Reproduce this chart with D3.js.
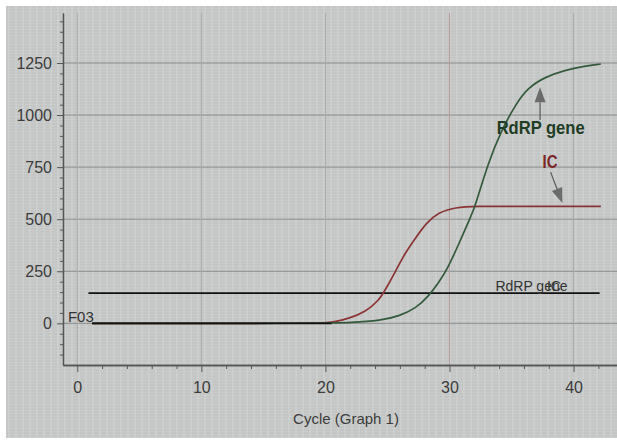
<!DOCTYPE html>
<html>
<head>
<meta charset="utf-8">
<script src="https://cdn.jsdelivr.net/npm/d3@7"></script>
<style>
  body { margin: 0; background: #fff; }
  svg { display: block; font-family: "Liberation Sans", Arial, sans-serif; }
</style>
</head>
<body>
<svg id="chart" width="617" height="443"></svg>
<script>
// amplification plot, well F03
var xMajorTicks = [0, 10, 20, 30, 40]
var yMajorTicks = [0, 250, 500, 750, 1000, 1250]

var icCycles = [1.2, 18, 20, 20.8, 21.9, 23.2, 24.3, 24.8, 25.7, 26.4, 27.3, 28.1, 29.1, 30.5, 32, 36, 42.2]
var icValues = [0, 0, 2, 8, 24, 53, 110, 158, 255, 336, 413, 480, 533, 557, 562, 562, 562]

var rdrpCycles = [1.2, 20, 22, 24.5, 25.9, 27.3, 28.3, 29.1, 29.9, 30.7, 31.7, 32.1, 33.1, 34.2, 35.3, 36.3, 37.7, 39.3, 40.9, 42.2]
var rdrpValues = [0, 0, 3, 14, 34, 72, 130, 192, 269, 375, 510, 567, 769, 928, 1048, 1130, 1183, 1216, 1235, 1245]

var baseCycles = [1.2, 20.5]
var baseValues = [0, 0]

var thresholdCycles = [0.9, 42.1]
var thresholdValue = 145

var svg = d3.select('#chart')
var W = 617, H = 443

var x = d3.scaleLinear().domain([-1.15, 43.5]).range([63, 617])
var y = d3.scaleLinear().domain([-200, 1490]).range([365, 13])

// screen background
svg.append('rect').attr('x', 6).attr('y', 6).attr('width', W - 6).attr('height', 432).attr('fill', '#c9cbca')

// fake screen texture
var tex = svg.append('g').attr('class', 'texture')
d3.range(7, 437, 3).forEach(function (yy) {
    tex.append('line').attr('x1', 6).attr('x2', W).attr('y1', yy).attr('y2', yy)
        .attr('stroke', '#000').attr('stroke-opacity', 0.05)
})
d3.range(9, W, 7).forEach(function (xx) {
    tex.append('line').attr('x1', xx).attr('x2', xx).attr('y1', 6).attr('y2', 438)
        .attr('stroke', '#fff').attr('stroke-opacity', 0.25)
})

// grid
svg.append('g').selectAll('line').data(yMajorTicks).enter().append('line')
    .attr('x1', x.range()[0]).attr('x2', W)
    .attr('y1', function (d) { return y(d) }).attr('y2', function (d) { return y(d) })
    .attr('stroke', '#8a8d8d').attr('stroke-width', 1)

svg.append('g').selectAll('line').data(xMajorTicks).enter().append('line')
    .attr('x1', function (d) { return x(d) }).attr('x2', function (d) { return x(d) })
    .attr('y1', y.range()[1]).attr('y2', y.range()[0])
    .attr('stroke', function (d) { return d == 30 ? '#b39c9c' : '#a9abab' }).attr('stroke-width', 1)

// axes
function styleAxis(g) {
    g.select('.domain').attr('stroke', '#555').attr('stroke-width', 1.3)
    g.selectAll('.tick line').attr('stroke', '#555')
    g.selectAll('.tick text').attr('fill', '#3c3c3c').attr('font-size', '16px')
        .attr('font-family', '"Liberation Sans", Arial, sans-serif')
}

var minorY = d3.range(-150, 1451, 50).filter(function (d) { return d % 250 != 0 })
svg.append('g').attr('transform', 'translate(' + x.range()[0] + ',0)')
    .call(d3.axisLeft(y).tickValues(minorY).tickSize(3).tickFormat('').tickSizeOuter(0))
    .call(styleAxis)
svg.append('g').attr('transform', 'translate(' + x.range()[0] + ',0)')
    .call(d3.axisLeft(y).tickValues(yMajorTicks).tickSize(6).tickPadding(5).tickSizeOuter(0).tickFormat(d3.format('d')))
    .call(styleAxis)

var minorX = d3.range(2, 43, 2).filter(function (d) { return d % 10 != 0 })
svg.append('g').attr('transform', 'translate(0,' + y.range()[0] + ')')
    .call(d3.axisBottom(x).tickValues(minorX).tickSize(4).tickFormat('').tickSizeOuter(0))
    .call(styleAxis)
svg.append('g').attr('transform', 'translate(0,' + y.range()[0] + ')')
    .call(d3.axisBottom(x).tickValues(xMajorTicks).tickSize(7).tickPadding(10).tickSizeOuter(0).tickFormat(d3.format('d')))
    .call(styleAxis)

svg.append('text').attr('x', 346).attr('y', 424).attr('text-anchor', 'middle')
    .attr('font-size', '15px').attr('fill', '#3c3c3c').text('Cycle (Graph 1)')

// threshold
var line = d3.line().x(function (d) { return x(d[0]) }).y(function (d) { return y(d[1]) })
svg.append('path')
    .datum(thresholdCycles.map(function (c) { return [c, thresholdValue] }))
    .attr('d', line).attr('fill', 'none').attr('stroke', '#111').attr('stroke-width', 1.6)

// curves
var curve = d3.line().curve(d3.curveBasis)
    .x(function (d) { return x(d[0]) }).y(function (d) { return y(d[1]) })

svg.append('path').datum(d3.zip(icCycles, icValues))
    .attr('d', curve).attr('fill', 'none').attr('stroke', '#8a3434').attr('stroke-width', 1.7)
svg.append('path').datum(d3.zip(rdrpCycles, rdrpValues))
    .attr('d', curve).attr('fill', 'none').attr('stroke', '#345a3c').attr('stroke-width', 1.7)
svg.append('path').datum(d3.zip(baseCycles, baseValues))
    .attr('d', line).attr('fill', 'none').attr('stroke', '#111').attr('stroke-width', 1.6)

// labels
svg.append('text').attr('x', x(-0.75)).attr('y', y(6)).attr('font-size', '15px')
    .attr('fill', '#333').text('F03')
svg.append('text').attr('x', x(33.7)).attr('y', y(155)).attr('font-size', '14px')
    .attr('fill', '#333').text('RdRP gene')
svg.append('text').attr('x', x(37.85)).attr('y', y(155)).attr('font-size', '14px')
    .attr('fill', '#333').text('IC')

svg.append('text').attr('x', x(33.8)).attr('y', y(909)).attr('font-size', '18px').attr('font-weight', 'bold')
    .attr('textLength', 88).attr('lengthAdjust', 'spacingAndGlyphs')
    .attr('fill', '#1f3d24').text('RdRP gene')
svg.append('text').attr('x', x(37.5)).attr('y', y(746)).attr('font-size', '18px').attr('font-weight', 'bold')
    .attr('textLength', 15).attr('lengthAdjust', 'spacingAndGlyphs')
    .attr('fill', '#7b2626').text('IC')

// arrows
function arrow(c0, v0, c1, v1) {
    var x0 = x(c0), y0 = y(v0), x1 = x(c1), y1 = y(v1)
    var a = Math.atan2(y1 - y0, x1 - x0), len = 15, wid = 5.5
    var bx = x1 - len * Math.cos(a), by = y1 - len * Math.sin(a)
    svg.append('line').attr('x1', x0).attr('y1', y0).attr('x2', bx).attr('y2', by)
        .attr('stroke', '#5e5e5e').attr('stroke-width', 1.3)
    svg.append('path')
        .attr('d', 'M' + x1 + ',' + y1 +
            'L' + (bx + wid * Math.sin(a)) + ',' + (by - wid * Math.cos(a)) +
            'L' + (bx - wid * Math.sin(a)) + ',' + (by + wid * Math.cos(a)) + 'Z')
        .attr('fill', '#6b6b6b')
}
arrow(37.3, 976, 37.3, 1134)
arrow(38.15, 726, 39.1, 578)
</script>
</body>
</html>
